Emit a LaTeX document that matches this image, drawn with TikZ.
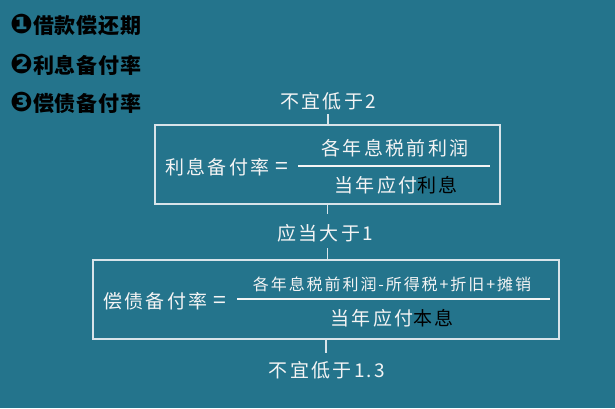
\documentclass[tikz,border=0pt]{standalone}
\usepackage{fontspec}
\setmainfont{Noto Sans CJK SC}
\newfontfamily\cjk[LetterSpace=4]{Noto Sans CJK SC}
\newfontfamily\cjksp[LetterSpace=12]{Noto Sans CJK SC}
\newfontfamily\dv{DejaVu Sans}
\definecolor{bgc}{HTML}{24748C}
\definecolor{linec}{HTML}{D8E4EA}
\definecolor{txtc}{HTML}{F4F4F4}
\tikzset{
  lbl/.style={text=txtc, inner sep=0pt, font=\cjksp\fontsize{19}{21}\selectfont},
  frm/.style={draw=linec, line width=1.2pt, minimum height=79pt, inner sep=0pt},
  conn/.style={draw=linec, line width=1.2pt},
  frac/.style={draw=txtc, line width=1.2pt},
  item/.style={text=black, anchor=west, inner sep=0pt, font=\cjk\bfseries\fontsize{21}{23}\selectfont}
}
\newcommand{\circnum}[1]{{\dv\fontsize{27}{28}\selectfont #1}}
\newcommand{\bigeq}{{\fontsize{23}{24}\selectfont =}}
\begin{document}
\begin{tikzpicture}[x=1pt,y=1pt]
\fill[bgc] (0,0) rectangle (615,408);
\useasboundingbox (0,0) rectangle (615,408);
% list
\node[item] (i1) at (10,383) {\circnum{❶}借款偿还期};
\node[item] (i2) at (10,343) {\circnum{❷}利息备付率};
\node[item] (i3) at (10,305) {\circnum{❸}偿债备付率};
% top label
\node[lbl] (t1) at (328,307) {不宜低于2};
% box 1
\node[frm, minimum width=345pt] (box1) at (327.5,243.5) {};
\node[lbl, anchor=west] (l1) at (165,241) {利息备付率 \bigeq};
\coordinate (f1a) at (298,242);
\coordinate (f1b) at (490,242);
\draw[frac] (f1a) -- (f1b);
\node[lbl] (n1) at (395,260) {各年息税前利润};
\node[lbl] (d1) at (396,223) {当年应付\textcolor{black}{利息}};
% middle label
\node[lbl] (t2) at (325,175) {应当大于1};
% box 2
\node[frm, minimum width=466pt] (box2) at (326,108.5) {};
\node[lbl, anchor=west] (l2) at (103,107) {偿债备付率 \bigeq};
\coordinate (f2a) at (237,109);
\coordinate (f2b) at (550,109);
\draw[frac] (f2a) -- (f2b);
\node[lbl, font=\cjksp\fontsize{16}{18}\selectfont] (n2) at (392,124) {各年息税前利润-所得税+折旧+摊销};
\node[lbl] (d2) at (392,90) {当年应付\textcolor{black}{本息}};
% bottom label
\node[lbl] (t3) at (327,38) {不宜低于1.3};
% connectors
\draw[conn] ([yshift=-4pt]t1.south) -- (t1.south |- box1.north);
\draw[conn] (box1.south) -- ([yshift=10pt]box1.south |- t2.north);
\draw[conn] ([yshift=-6pt]box1.south |- t2.south) -- (box1.south |- box2.north);
\draw[conn] (box2.south) -- ([yshift=8pt]box2.south |- t3.north);
\end{tikzpicture}
\end{document}
